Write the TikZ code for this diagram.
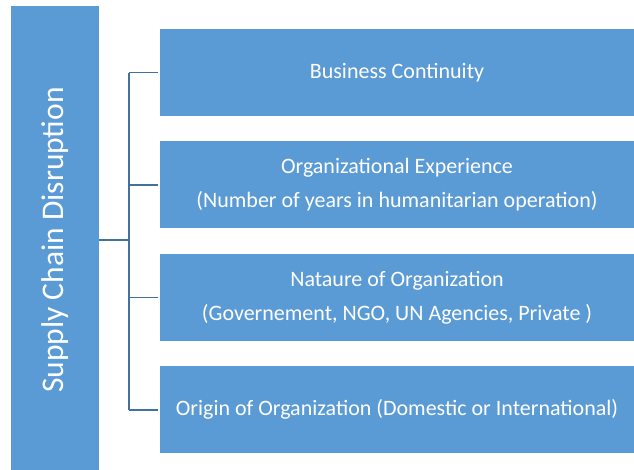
\documentclass[tikz,border=0pt]{standalone}
\usepackage{fontspec}
\setmainfont{Carlito}
\usetikzlibrary{positioning}
\definecolor{boxblue}{HTML}{5B9BD5}
\definecolor{lineblue}{HTML}{41719C}

\begin{document}
\begin{tikzpicture}[x=1pt, y=-1pt]
\tikzstyle{factor}=[rectangle, fill=boxblue, text=white, minimum width=474pt, minimum height=87pt, align=center, font=\fontsize{22}{34}\selectfont, inner sep=0pt, node distance=25pt]
\tikzstyle{main}=[rectangle, fill=boxblue, text=white, minimum width=88pt, minimum height=468pt, inner sep=0pt, font=\fontsize{31.5}{34}\selectfont]
\tikzstyle{connect}=[draw=lineblue, line width=1.6pt]
  \useasboundingbox (0,0) rectangle (634,469);
  \node[main] (scd) at (55,240) {\rotatebox{90}{Supply Chain Disruption}};
  \node[factor] (bc) at (397,72.5) {Business Continuity};
  \node[factor] (oe) [below=of bc] {Organizational Experience\\(Number of years in humanitarian operation)};
  \node[factor] (no) [below=of oe] {Nataure of Organization\\(Governement, NGO, UN Agencies, Private )};
  \node[factor] (oo) [below=of no] {Origin of Organization (Domestic or International)};
  \coordinate (hub) at (129,240);
  \path (scd.east) edge [connect] (hub)
        (hub |- bc.west) edge [connect] (hub |- oo.west)
        (hub |- bc.west) edge [connect] ([xshift=-2pt]bc.west)
        (hub |- oe.west) edge [connect] ([xshift=-2pt]oe.west)
        (hub |- no.west) edge [connect] ([xshift=-2pt]no.west)
        (hub |- oo.west) edge [connect] ([xshift=-2pt]oo.west);
\end{tikzpicture}
\end{document}
